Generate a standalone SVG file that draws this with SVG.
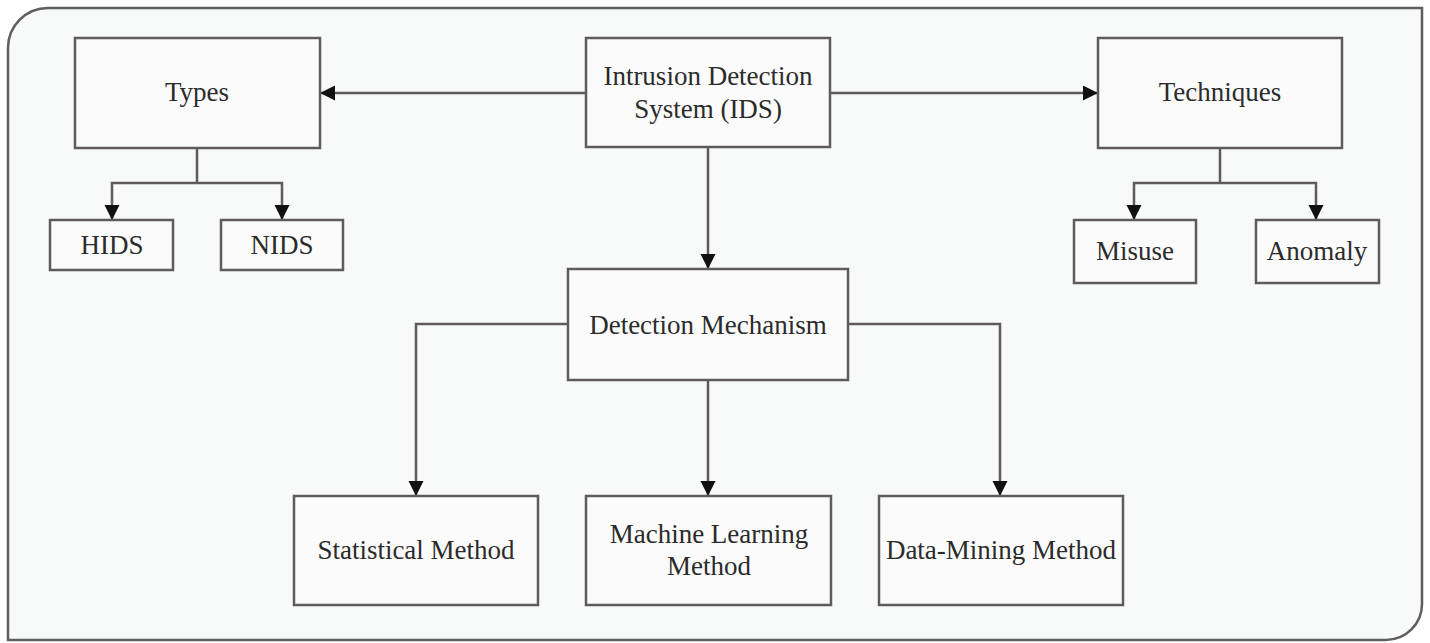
<svg xmlns="http://www.w3.org/2000/svg" width="1430" height="643" viewBox="0 0 1430 643">
<defs>
<marker id="arr" markerUnits="userSpaceOnUse" markerWidth="16" markerHeight="16" refX="15" refY="7.5" orient="auto">
<path d="M0,0 L15,7.5 L0,15 z" fill="#111"/>
</marker>
<style>
.frame{fill:#f8f9f9;stroke:#5e5e5e;stroke-width:2.5}
.box{fill:#fbfbfb;stroke:#5f5b5b;stroke-width:2.5}
text{font-family:'Liberation Serif',serif;font-size:27px;fill:#2b2b2b;text-anchor:middle}
.con{fill:none;stroke:#5f5b5b;stroke-width:2.5;marker-end:url(#arr)}
.seg{fill:none;stroke:#5f5b5b;stroke-width:2.5}
</style>
</defs>
<rect width="1430" height="643" fill="#ffffff"/>
<path class="frame" d="M8,48 A40,40 0 0 1 48,8 L1422,8 L1422,604 A36,36 0 0 1 1386,640 L8,640 Z"/>
<g id="connectors">
<path class="con" d="M586,93 L320,93"/>
<path class="con" d="M830,93 L1098,93"/>
<path class="con" d="M708,147 L708,269"/>
<path class="seg" d="M197,148 L197,183"/>
<path class="con" d="M197,183 L112,183 L112,220"/>
<path class="con" d="M197,183 L282,183 L282,220"/>
<path class="seg" d="M1220,148 L1220,183"/>
<path class="con" d="M1220,183 L1134,183 L1134,220"/>
<path class="con" d="M1220,183 L1316,183 L1316,220"/>
<path class="con" d="M568,324 L416,324 L416,496"/>
<path class="con" d="M708,380 L708,496"/>
<path class="con" d="M848,324 L1000,324 L1000,496"/>
</g>
<g id="ids">
<rect class="box" x="586" y="38" width="244" height="109"/>
<text x="708" y="85" font-family="Liberation Serif">Intrusion Detection</text>
<text x="708" y="118" font-family="Liberation Serif">System (IDS)</text>
</g>
<g id="types">
<rect class="box" x="75" y="38" width="245" height="110"/>
<text x="197" y="101" font-family="Liberation Serif">Types</text>
</g>
<g id="hids">
<rect class="box" x="50" y="220" width="123" height="50"/>
<text x="112" y="254" font-family="Liberation Serif">HIDS</text>
</g>
<g id="nids">
<rect class="box" x="221" y="220" width="122" height="50"/>
<text x="282" y="254" font-family="Liberation Serif">NIDS</text>
</g>
<g id="techniques">
<rect class="box" x="1098" y="38" width="244" height="110"/>
<text x="1220" y="101" font-family="Liberation Serif">Techniques</text>
</g>
<g id="misuse">
<rect class="box" x="1074" y="220" width="122" height="63"/>
<text x="1135" y="260" font-family="Liberation Serif">Misuse</text>
</g>
<g id="anomaly">
<rect class="box" x="1256" y="220" width="123" height="63"/>
<text x="1317" y="260" font-family="Liberation Serif">Anomaly</text>
</g>
<g id="detection">
<rect class="box" x="568" y="269" width="280" height="111"/>
<text x="708" y="334" font-family="Liberation Serif">Detection Mechanism</text>
</g>
<g id="statistical">
<rect class="box" x="294" y="496" width="244" height="109"/>
<text x="416" y="559" font-family="Liberation Serif">Statistical Method</text>
</g>
<g id="ml">
<rect class="box" x="586" y="496" width="245" height="109"/>
<text x="709" y="543" font-family="Liberation Serif">Machine Learning</text>
<text x="709" y="575" font-family="Liberation Serif">Method</text>
</g>
<g id="datamining">
<rect class="box" x="879" y="496" width="244" height="109"/>
<text x="1001" y="559" font-family="Liberation Serif">Data-Mining Method</text>
</g>
</svg>
